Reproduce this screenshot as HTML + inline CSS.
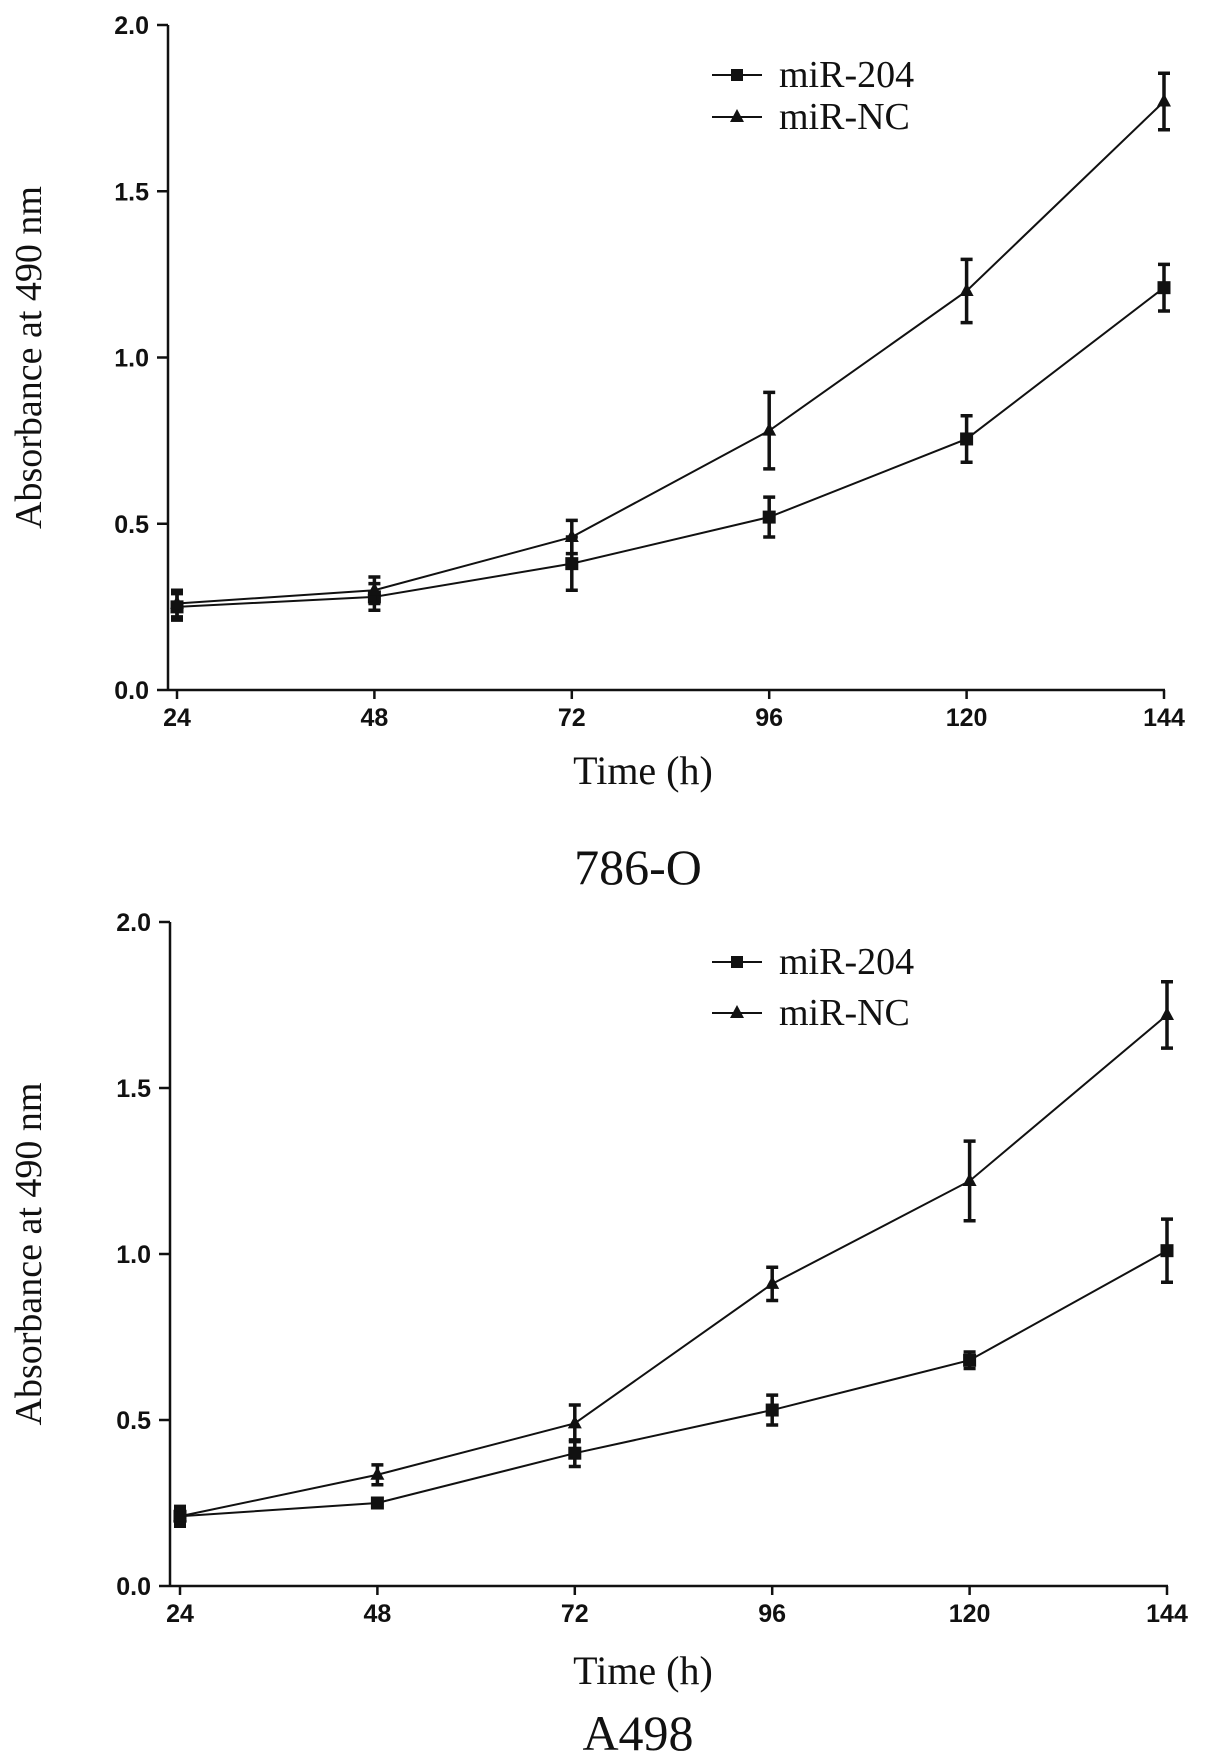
<!DOCTYPE html>
<html><head><meta charset="utf-8">
<style>
html,body{margin:0;padding:0;background:#fff;}
svg{display:block;}
.tick{font-family:"Liberation Sans",Arial,sans-serif;font-weight:bold;font-size:25px;fill:#111;}
.title{font-family:"Liberation Serif",serif;fill:#111;}
</style></head>
<body>
<svg id="fig" width="1205" height="1759" viewBox="0 0 1205 1759" xmlns="http://www.w3.org/2000/svg"></svg>
<script>
const categories = [24, 48, 72, 96, 120, 144];
const yTicks = [0.0, 0.5, 1.0, 1.5, 2.0];
const yTickLabels = ["0.0", "0.5", "1.0", "1.5", "2.0"];
const seriesNames = ["miR-204", "miR-NC"];
// 786-O
const topMir204 = [0.25, 0.28, 0.38, 0.52, 0.755, 1.21];
const topMir204Err = [0.04, 0.04, 0.08, 0.06, 0.07, 0.07];
const topMirNC = [0.26, 0.30, 0.46, 0.78, 1.20, 1.77];
const topMirNCErr = [0.04, 0.04, 0.05, 0.115, 0.095, 0.085];
// A498
const botMir204 = [0.21, 0.25, 0.40, 0.53, 0.68, 1.01];
const botMir204Err = [0.03, 0.01, 0.04, 0.045, 0.025, 0.095];
const botMirNC = [0.21, 0.335, 0.49, 0.91, 1.22, 1.72];
const botMirNCErr = [0.02, 0.03, 0.055, 0.05, 0.12, 0.10];

const NS = "http://www.w3.org/2000/svg";
const svg = document.getElementById("fig");
function mk(tag, attrs, parent){
  const e = document.createElementNS(NS, tag);
  for (const k in attrs) e.setAttribute(k, attrs[k]);
  (parent||svg).appendChild(e);
  return e;
}

function panel(p){
  const g = mk("g", {});
  
  
  const xs = v => p.x24 + (v - 24) / 120 * (p.x144 - p.x24);
  const ys = v => p.y0 - v / 2 * (p.y0 - p.y2);
  const ya = mk("line", {x1:p.ax, y1:p.y2, x2:p.ax, y2:p.y0, stroke:"#111","stroke-width":2.5}, g);
  
  
  const xa = mk("line", {x1:p.ax, y1:p.y0, x2:p.x144+1, y2:p.y0, stroke:"#111","stroke-width":2.5}, g);
  
  
  yTicks.forEach((t,i)=>{
    mk("line",{x1:p.ax-11,y1:ys(t),x2:p.ax,y2:ys(t),stroke:"#111","stroke-width":2.5},g);
    const tl = mk("text",{x:p.ax-19,y:ys(t)+9,"text-anchor":"end",class:"tick"},g);
    tl.textContent = yTickLabels[i];
    
    
  });
  categories.forEach(c=>{
    mk("line",{x1:xs(c),y1:p.y0,x2:xs(c),y2:p.y0+9,stroke:"#111","stroke-width":2.5},g);
    const tl = mk("text",{x:xs(c),y:p.y0+36,"text-anchor":"middle",class:"tick"},g);
    tl.textContent = String(c);
    
    
  });
  const sets = [[p.s204,p.e204,"square"],[p.sNC,p.eNC,"triangle"]];
  sets.forEach(([vals,errs,shape],si)=>{
    const pts = vals.map((v,i)=>xs(categories[i])+","+ys(v)).join(" ");
    const ln = mk("polyline",{points:pts,fill:"none",stroke:"#111","stroke-width":2},g);
    
    
    vals.forEach((v,i)=>{
      const x = xs(categories[i]), y = ys(v), hi = ys(v+errs[i]), lo = ys(v-errs[i]);
      const eb = mk("path",{d:`M${x},${hi}V${lo}M${x-6},${hi}H${x+6}M${x-6},${lo}H${x+6}`,stroke:"#111","stroke-width":3.5,fill:"none"},g);
      
      
      let m;
      if (shape==="square") m = mk("rect",{x:x-6.5,y:y-6.5,width:13,height:13,fill:"#111"},g);
      else m = mk("polygon",{points:`${x},${y-8} ${x-7},${y+5} ${x+7},${y+5}`,fill:"#111"},g);
      
      
    });
  });
  [0,1].forEach(i=>{
    const ly = p.legY[i];
    const lg = mk("g",{},g);
    
    
    mk("line",{x1:712,y1:ly,x2:762,y2:ly,stroke:"#111","stroke-width":2},lg);
    if (i===0) mk("rect",{x:731,y:ly-6,width:12,height:12,fill:"#111"},lg);
    else mk("polygon",{points:`737,${ly-8} 730,${ly+5} 744,${ly+5}`,fill:"#111"},lg);
    const t = mk("text",{x:779,y:ly+12,class:"title","font-size":38},lg);
    t.textContent = seriesNames[i];
  });
  const yt = mk("text",{x:0,y:0,class:"title","font-size":38,"text-anchor":"middle",transform:`translate(41,${(p.y0+p.y2)/2}) rotate(-90)`},g);
  yt.textContent = "Absorbance at 490 nm";
  
  
  const xt = mk("text",{x:643,y:p.xtY,class:"title","font-size":40,"text-anchor":"middle"},g);
  xt.textContent = "Time (h)";
  
  
  const pt = mk("text",{x:638,y:p.ptY,class:"title","font-size":50,"text-anchor":"middle"},g);
  pt.textContent = p.label;
  
  
}

panel({id:"786-o",label:"786-O",ax:168,x24:177,x144:1164,y0:690,y2:25,
  s204:topMir204,e204:topMir204Err,sNC:topMirNC,eNC:topMirNCErr,
  legY:[75,117],xtY:784,ptY:884});
panel({id:"a498",label:"A498",ax:170,x24:180,x144:1167,y0:1586,y2:922,
  s204:botMir204,e204:botMir204Err,sNC:botMirNC,eNC:botMirNCErr,
  legY:[962,1013],xtY:1684,ptY:1750});
</script>
</body></html>
